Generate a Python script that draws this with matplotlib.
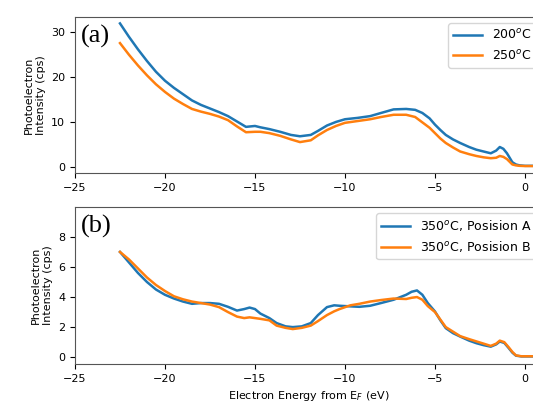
import matplotlib
matplotlib.use("Agg")
import matplotlib.pyplot as plt

# Panel (a): valence-band spectra at two annealing temperatures
energy_a = [-22.5, -22.0, -21.5, -21.0, -20.5, -20.0, -19.5, -19.0, -18.5, -18.0,
            -17.5, -17.0, -16.5, -16.0, -15.5, -15.0, -14.7, -14.2, -13.6, -13.0,
            -12.5, -11.9, -11.5, -11.0, -10.5, -10.0, -9.3, -8.6, -8.0, -7.3,
            -6.6, -6.1, -5.7, -5.3, -5.0, -4.7, -4.4, -4.0, -3.6, -3.1,
            -2.7, -2.3, -1.9, -1.6, -1.4, -1.2, -1.0, -0.85, -0.7, -0.5,
            -0.3, 0.0, 0.5]
int_200 = [32.0, 29.0, 26.2, 23.6, 21.2, 19.2, 17.6, 16.2, 14.8, 13.8,
           13.0, 12.2, 11.3, 10.1, 8.9, 9.1, 8.8, 8.4, 7.8, 7.1,
           6.8, 7.1, 8.0, 9.2, 10.0, 10.6, 10.9, 11.3, 12.0, 12.8,
           12.9, 12.7, 12.0, 10.8, 9.4, 8.2, 7.1, 6.1, 5.3, 4.4,
           3.8, 3.4, 3.0, 3.6, 4.4, 4.0, 3.0, 2.0, 1.0, 0.5,
           0.3, 0.2, 0.2]
int_250 = [27.6, 25.0, 22.6, 20.4, 18.4, 16.7, 15.2, 14.0, 12.9, 12.3,
           11.8, 11.2, 10.4, 9.0, 7.7, 7.8, 7.8, 7.5, 6.9, 6.1,
           5.5, 5.9, 7.0, 8.2, 9.1, 9.8, 10.2, 10.6, 11.1, 11.6,
           11.6, 11.1, 9.9, 8.7, 7.5, 6.3, 5.3, 4.3, 3.4, 2.8,
           2.4, 2.1, 1.9, 2.0, 2.4, 2.2, 1.7, 1.1, 0.5, 0.3,
           0.2, 0.15, 0.15]

# Panel (b): two positions on the 350 degC sample
energy_b = [-22.5, -22.0, -21.5, -21.0, -20.5, -20.0, -19.5, -19.0, -18.5, -18.0,
            -17.5, -17.0, -16.5, -16.0, -15.6, -15.3, -15.0, -14.7, -14.2, -13.8,
            -13.3, -12.9, -12.4, -11.9, -11.5, -11.0, -10.6, -10.3, -9.7, -9.2,
            -8.6, -8.0, -7.3, -6.6, -6.3, -6.0, -5.7, -5.4, -5.0, -4.7,
            -4.4, -4.0, -3.6, -3.1, -2.7, -2.3, -1.9, -1.6, -1.4, -1.15,
            -0.9, -0.7, -0.5, -0.2, 0.5]
int_pos_a = [7.0, 6.3, 5.6, 5.0, 4.5, 4.15, 3.9, 3.7, 3.55, 3.6,
             3.6, 3.55, 3.35, 3.1, 3.2, 3.3, 3.2, 2.9, 2.6, 2.27,
             2.05, 2.0, 2.05, 2.27, 2.8, 3.33, 3.45, 3.42, 3.38, 3.35,
             3.42, 3.6, 3.82, 4.15, 4.35, 4.44, 4.15, 3.6, 3.04, 2.45,
             1.93, 1.6, 1.37, 1.1, 0.93, 0.8, 0.7, 0.85, 1.04, 0.95,
             0.6, 0.3, 0.1, 0.05, 0.05]
int_pos_b = [7.0, 6.5, 5.9, 5.3, 4.8, 4.4, 4.05, 3.85, 3.7, 3.6,
             3.5, 3.33, 3.0, 2.7, 2.6, 2.65, 2.6, 2.55, 2.45, 2.1,
             1.95, 1.87, 1.95, 2.1, 2.4, 2.8, 3.05, 3.2, 3.45, 3.55,
             3.7, 3.8, 3.9, 3.87, 3.95, 4.0, 3.82, 3.4, 3.0, 2.5,
             2.0, 1.7, 1.4, 1.2, 1.05, 0.9, 0.75, 0.9, 1.1, 1.0,
             0.65, 0.35, 0.12, 0.06, 0.06]

labels_a = ["200$^o$C", "250$^o$C"]
labels_b = ["350$^o$C, Posision A", "350$^o$C, Posision B"]

plt.rcParams["font.size"] = 8

fig = plt.figure(figsize=(5.33, 4.08), dpi=100)
ax_a = fig.add_axes([0.1407, 0.576, 0.878, 0.382])
ax_b = fig.add_axes([0.1407, 0.108, 0.878, 0.385])

lw = 1.8
ax_a.plot(energy_a, int_200, color="tab:blue", lw=lw, label=labels_a[0])
ax_a.plot(energy_a, int_250, color="tab:orange", lw=lw, label=labels_a[1])
ax_b.plot(energy_b, int_pos_a, color="tab:blue", lw=lw, label=labels_b[0])
ax_b.plot(energy_b, int_pos_b, color="tab:orange", lw=lw, label=labels_b[1])

ax_a.set_ylim(-1.4, 33.4)
ax_a.set_yticks([0, 10, 20, 30])
ax_b.set_ylim(-0.45, 10.0)
ax_b.set_yticks([0, 2, 4, 6, 8])

for ax, tag in ((ax_a, "(a)"), (ax_b, "(b)")):
    ax.set_xlim(-25, 1.0)
    ax.set_xticks([-25, -20, -15, -10, -5, 0])
    ax.set_ylabel("Photoelectron\nIntensity (cps)", fontsize=8)
    ax.legend(loc="upper right", fontsize=9, handlelength=2.3,
              handletextpad=0.8)
    ax.text(0.012, 0.95, tag, transform=ax.transAxes, ha="left", va="top",
            fontsize=19, family="Liberation Serif")
    for s in ax.spines.values():
        s.set_color("#555555")

ax_b.set_xlabel("Electron Energy from E$_F$ (eV)", fontsize=8)

fig.savefig("out.png", dpi=100)
